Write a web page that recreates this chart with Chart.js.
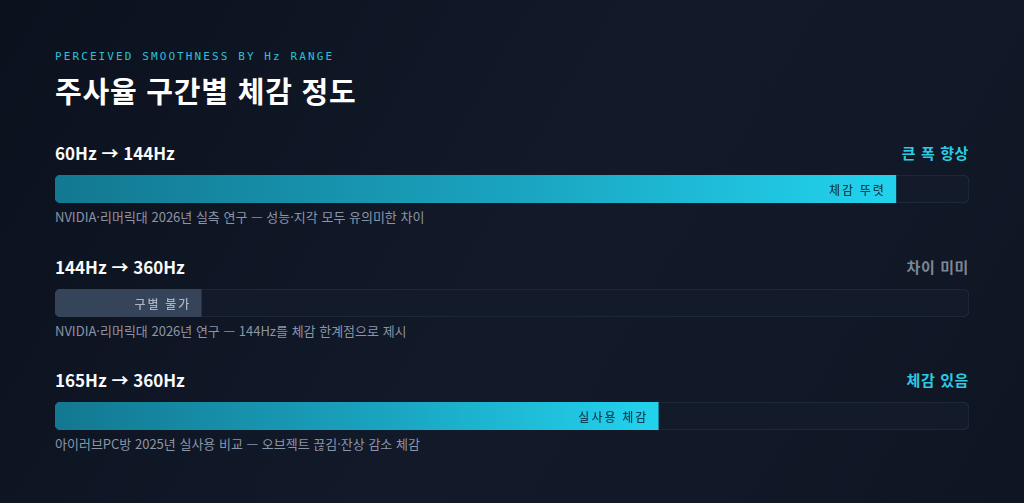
<!DOCTYPE html>
<html lang="ko">
<head>
<meta charset="utf-8">
<title>주사율 구간별 체감 정도</title>
<script src="https://cdn.jsdelivr.net/npm/chart.js@4.4.1/dist/chart.umd.min.js"></script>
<style>
    html, body {
        margin: 0;
        width: 1024px;
        height: 503px;
        overflow: hidden;
    }
    body {
        position: relative;
        background: linear-gradient(120deg, #0b111d 0%, #121929 50%, #111827 75%, #0f1522 100%);
        font-family: 'Noto Sans CJK KR', 'Noto Sans', sans-serif;
        color: #f1f5f9;
    }
    .eyebrow {
        position: absolute;
        left: 55px;
        top: 50px;
        font-family: 'DejaVu Sans Mono', monospace;
        font-size: 11px;
        line-height: 14px;
        letter-spacing: 2.1px;
        color: #2cc0d8;
    }
    .title {
        position: absolute;
        left: 55px;
        top: 71px;
        font-size: 29px;
        line-height: 38px;
        font-weight: 700;
        color: #ffffff;
        letter-spacing: 0.8px;
    }
    .row {
        position: absolute;
        left: 55px;
        width: 914px;
        height: 90px;
    }
    .row-head {
        position: absolute;
        left: 0;
        right: 0;
        top: 0;
        height: 26px;
        line-height: 26px;
    }
    .range {
        position: absolute;
        left: 0;
        font-size: 17px;
        font-weight: 700;
        color: #f8fafc;
    }
    .verdict {
        position: absolute;
        right: 0;
        font-size: 15px;
        font-weight: 700;
        letter-spacing: 0.6px;
    }
    .bar-box {
        position: absolute;
        left: 0;
        top: 35px;
        width: 914px;
        height: 28px;
    }
    .note {
        position: absolute;
        left: 0;
        top: 70px;
        font-size: 13px;
        line-height: 14px;
        color: #8b95a7;
    }
</style>
</head>
<body>
<div class="eyebrow">PERCEIVED SMOOTHNESS BY Hz RANGE</div>
<div class="title">주사율 구간별 체감 정도</div>
<div id="rows"></div>

<script>
// Chart data
const rangeLabels = ['60Hz → 144Hz', '144Hz → 360Hz', '165Hz → 360Hz'];
const smoothnessScores = [92, 16, 66];
const scoreMax = 100;
const verdicts = ['큰 폭 향상', '차이 미미', '체감 있음'];
const barTags = ['체감 뚜렷', '구별 불가', '실사용 체감'];
const sources = [
    'NVIDIA·리머릭대 2026년 실측 연구 — 성능·지각 모두 유의미한 차이',
    'NVIDIA·리머릭대 2026년 연구 — 144Hz를 체감 한계점으로 제시',
    '아이러브PC방 2025년 실사용 비교 — 오브젝트 끊김·잔상 감소 체감'
];
const strongRows = [true, false, true];

const rowTops = [140, 254, 367];

// Draws the small tag text at the right end of the filled bar
const barTagPlugin = {
    id: 'barTag',
    afterDatasetsDraw(chart, args, opts) {
        const meta = chart.getDatasetMeta(0);
        const bar = meta.data[0];
        if (!bar) return;
        const ctx = chart.ctx;
        ctx.save();
        ctx.font = '500 12px "Noto Sans CJK KR", sans-serif';
        ctx.letterSpacing = '2px';
        ctx.textAlign = 'right';
        ctx.textBaseline = 'middle';
        ctx.fillStyle = opts.color;
        ctx.fillText(opts.text, bar.x - 10, bar.y + 1);
        ctx.restore();
    }
};

function makeRow(i) {
    const row = document.createElement('div');
    row.className = 'row';
    row.style.top = rowTops[i] + 'px';

    const head = document.createElement('div');
    head.className = 'row-head';
    const range = document.createElement('span');
    range.className = 'range';
    range.textContent = rangeLabels[i];
    const verdict = document.createElement('span');
    verdict.className = 'verdict';
    verdict.textContent = verdicts[i];
    verdict.style.color = strongRows[i] ? '#2ccbe4' : '#7c8798';
    head.appendChild(range);
    head.appendChild(verdict);

    const box = document.createElement('div');
    box.className = 'bar-box';
    const canvas = document.createElement('canvas');
    box.appendChild(canvas);

    const note = document.createElement('div');
    note.className = 'note';
    note.textContent = sources[i];

    row.appendChild(head);
    row.appendChild(box);
    row.appendChild(note);
    document.getElementById('rows').appendChild(row);

    new Chart(canvas.getContext('2d'), {
        type: 'bar',
        data: {
            labels: [rangeLabels[i]],
            datasets: [
                {
                    data: [smoothnessScores[i]],
                    backgroundColor: function(context) {
                        if (!strongRows[i]) return '#354458';
                        const chart = context.chart;
                        const area = chart.chartArea;
                        if (!area || !chart.scales.x) return '#1aa6c4';
                        const end = chart.scales.x.getPixelForValue(smoothnessScores[i]);
                        const g = chart.ctx.createLinearGradient(area.left, 0, end, 0);
                        g.addColorStop(0, '#137891');
                        g.addColorStop(0.55, '#1aa4c0');
                        g.addColorStop(1, '#22d3ee');
                        return g;
                    },
                    borderWidth: 0,
                    borderRadius: { topLeft: 6, bottomLeft: 6, topRight: 0, bottomRight: 0 },
                    borderSkipped: false,
                    barPercentage: 1,
                    categoryPercentage: 1,
                    grouped: false,
                    order: 0
                },
                {
                    data: [scoreMax],
                    backgroundColor: '#131b2b',
                    borderColor: '#222c3c',
                    borderWidth: 1,
                    borderRadius: 6,
                    borderSkipped: false,
                    barPercentage: 1,
                    categoryPercentage: 1,
                    grouped: false,
                    order: 1
                }
            ]
        },
        options: {
            indexAxis: 'y',
            responsive: true,
            maintainAspectRatio: false,
            animation: false,
            layout: { padding: 0 },
            plugins: {
                legend: { display: false },
                tooltip: { enabled: false },
                barTag: {
                    text: barTags[i],
                    color: strongRows[i] ? '#0d4456' : '#a8b4c4'
                }
            },
            scales: {
                x: { min: 0, max: scoreMax, display: false },
                y: { display: false }
            }
        },
        plugins: [barTagPlugin]
    });
}

document.addEventListener('DOMContentLoaded', function() {
    for (let i = 0; i < rangeLabels.length; i++) {
        makeRow(i);
    }
});
</script>
</body>
</html>
